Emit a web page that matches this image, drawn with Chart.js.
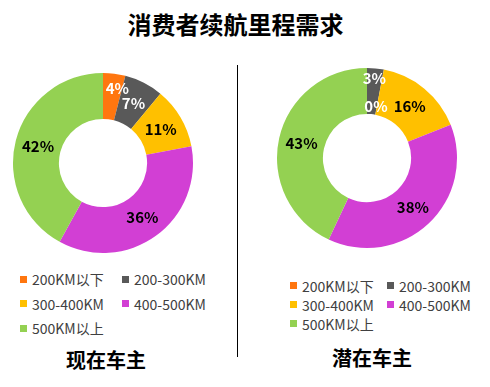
<!DOCTYPE html>
<html>
<head>
<meta charset="utf-8">
<script src="https://cdn.jsdelivr.net/npm/chart.js@4.4.1/dist/chart.umd.min.js"></script>
<style>
html,body{margin:0;padding:0;background:#fff;width:490px;height:387px;overflow:hidden;position:relative;font-family:'Noto Sans CJK SC','Noto Sans',sans-serif;}
.abs{position:absolute;}
#title{left:0;width:471px;top:8px;text-align:center;font-size:24px;font-weight:bold;color:#000;line-height:32px;}
#divider{left:237px;top:65px;width:1px;height:292px;background:#000;}
.sub{font-size:20px;font-weight:bold;color:#000;text-align:center;width:120px;line-height:28px;}
.legend{display:grid;font-size:14px;color:#404040;}
.legend .item{display:flex;align-items:center;white-space:nowrap;}
.legend .sw{width:7px;height:7px;margin-right:5px;flex:none;}
#legL{left:20px;top:267px;grid-template-columns:102px 100px;grid-auto-rows:24.5px;}
#legR{left:290px;top:276px;grid-template-columns:97px 100px;grid-auto-rows:19px;}
</style>
</head>
<body>
<div id="title" class="abs">消费者续航里程需求</div>
<div id="divider" class="abs"></div>
<canvas id="chart-now" class="abs" width="200" height="200" style="left:3px;top:63px;width:200px;height:200px"></canvas>
<canvas id="chart-potential" class="abs" width="200" height="200" style="left:267px;top:58px;width:200px;height:200px"></canvas>
<div id="legL" class="abs legend"></div>
<div id="legR" class="abs legend"></div>
<div class="abs sub" style="left:46px;top:346px">现在车主</div>
<div class="abs sub" style="left:312px;top:344px">潜在车主</div>
<script>
const CATEGORIES=["200KM以下","200-300KM","300-400KM","400-500KM","500KM以上"];
const NOW_VALUES=[4,7,11,36,42];
const POTENTIAL_VALUES=[0,3,16,38,43];
const SLICE_COLORS=["#FF760F","#595959","#FFC000","#D23FD4","#94D152"];
const LABEL_COLORS=["#fff","#fff","#000","#000","#000"];

// percent labels drawn at the middle of each ring segment
const pctLabels={
  id:"pctLabels",
  afterDatasetsDraw(chart,args,opts){
    const ctx=chart.ctx;const meta=chart.getDatasetMeta(0);
    const vals=chart.data.datasets[0].data;const nudge=opts.nudge||[];
    ctx.save();
    ctx.font="bold 15px 'Noto Sans CJK SC','Noto Sans',sans-serif";
    ctx.textAlign="center";ctx.textBaseline="middle";
    meta.data.forEach((arc,i)=>{
      const p=arc.tooltipPosition();const n=nudge[i]||[0,0];
      ctx.fillStyle=LABEL_COLORS[i];
      ctx.fillText(`${vals[i]}%`,p.x+n[0],p.y+n[1]);
    });
    ctx.restore();
  }
};

function mkDoughnut(id,values,nudge){
  return new Chart(document.getElementById(id).getContext("2d"),{
    type:"doughnut",
    data:{labels:CATEGORIES,datasets:[{data:values,backgroundColor:SLICE_COLORS,borderWidth:0,hoverBorderWidth:0,hoverOffset:0}]},
    options:{responsive:false,animation:false,cutout:"49%",layout:{padding:10},
      events:[],
      plugins:{legend:{display:false},tooltip:{enabled:false},pctLabels:{nudge}}},
    plugins:[pctLabels]
  });
}
mkDoughnut("chart-now",NOW_VALUES,[[6,-8]]);
mkDoughnut("chart-potential",POTENTIAL_VALUES,[[9,15],[1,-13]]);

function buildLegend(id){
  document.getElementById(id).innerHTML=CATEGORIES.map((c,i)=>
    `<div class="item"><span class="sw" style="background:${SLICE_COLORS[i]}"></span>${c}</div>`).join("");
}
buildLegend("legL");buildLegend("legR");
</script>
</body>
</html>
